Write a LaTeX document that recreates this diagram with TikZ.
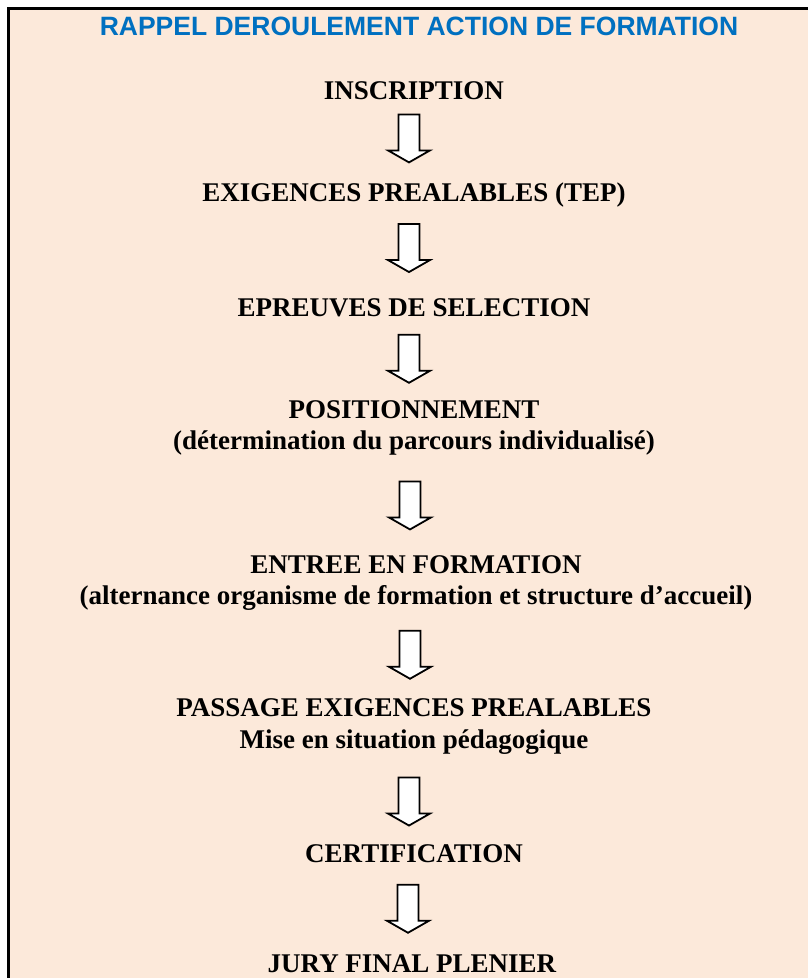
\documentclass[tikz,border=0pt]{standalone}
\usepackage{fontspec}
\setmainfont{Liberation Serif}
\newfontfamily\titlefont{Liberation Sans}
\usetikzlibrary{positioning}
\usetikzlibrary{calc}
\definecolor{peach}{RGB}{252,233,218}
\definecolor{titleblue}{RGB}{0,112,192}

\tikzset{
  stage/.style={font=\bfseries\fontsize{27}{31.5}\selectfont, align=center, inner sep=0pt},
  flowarrow/.style={draw=black, fill=white, line width=1.8pt, line join=miter},
}

% block arrow half way between two stages, optional nudge down
\newcommand{\stagearrow}[3][0]{%
  \coordinate (mid) at ($(#2.south)!0.5!(#3.north)+(-5,#1)$);
  \draw [flowarrow] ($(mid)+(-10.5,-24)$) -- ($(mid)+(10.5,-24)$) -- ($(mid)+(10.5,12)$)
    -- ($(mid)+(21,12)$) -- ($(mid)+(0,24)$) -- ($(mid)+(-21,12)$) -- ($(mid)+(-10.5,12)$) -- cycle;}

\begin{document}
\begin{tikzpicture}[x=1pt,y=-1pt]
					\useasboundingbox (0,0) rectangle (808,978);
					\fill [peach] (8.5,8.5) rectangle (808,978);
					\draw [line width=2.7pt] (8.5,978) -- (8.5,8.5) -- (808,8.5);

					\node [font=\titlefont\bfseries\fontsize{26.5}{31}\selectfont, text=titleblue, inner sep=0pt] (title) at (419,26.5) {RAPPEL DEROULEMENT ACTION DE FORMATION};

					\node [stage] (inscription) at (414,91) {INSCRIPTION};
					\node [stage] (tep) at (414,195) {EXIGENCES PREALABLES (TEP)};
					\node [stage] (selection) at (414,308) {EPREUVES DE SELECTION};
					\node [stage] (position) at (414,428) {POSITIONNEMENT\\(détermination du parcours individualisé)};
					\node [stage] (entree) at (416,583) {ENTREE EN FORMATION\\(alternance organisme de formation et structure d’accueil)};
					\node [stage] (passage) at (414,726.5) {PASSAGE EXIGENCES PREALABLES\\Mise en situation pédagogique};
					\node [stage] (certif) at (414,854) {CERTIFICATION};
					\node [stage] (jury) at (412,963.5) {JURY FINAL PLENIER};

					\stagearrow[-3]{inscription}{tep}
					\stagearrow[-5]{tep}{selection}
					\stagearrow{selection}{position}
					\stagearrow{position}{entree}
					\stagearrow{entree}{passage}
					\stagearrow[2]{passage}{certif}
					\stagearrow{certif}{jury}
\end{tikzpicture}
\end{document}
